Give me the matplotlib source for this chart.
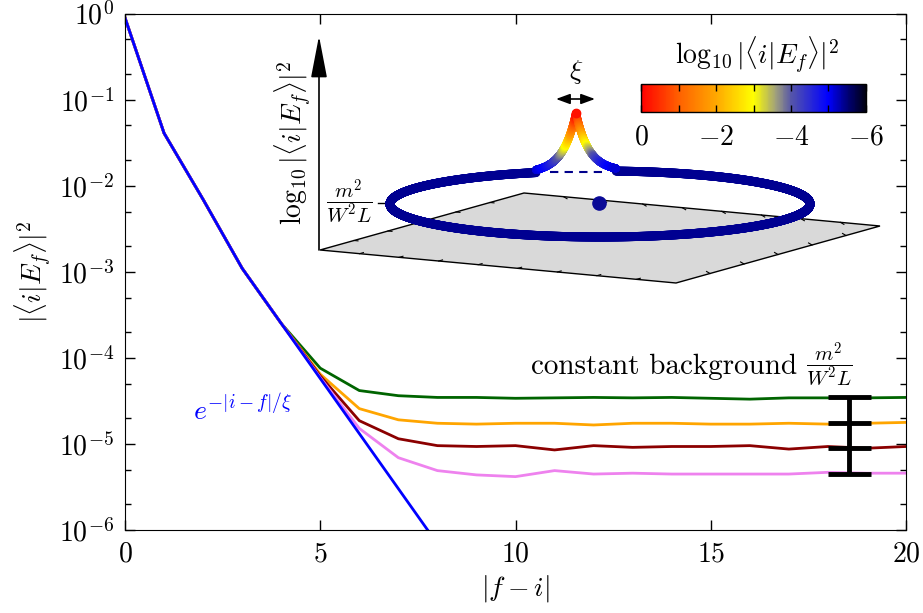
import numpy as np
import matplotlib
matplotlib.use("Agg")
import matplotlib.pyplot as plt
import matplotlib.colors as mcolors
from matplotlib.patches import Polygon
from matplotlib.ticker import LogLocator, NullFormatter

plt.rcParams["font.family"] = "serif"
plt.rcParams["font.serif"] = ["cmr10"]
plt.rcParams["mathtext.fontset"] = "cm"
plt.rcParams["axes.formatter.use_mathtext"] = True

# ---- data (log10 of |<i|E_f>|^2) ----
dist = list(range(21))
shared = [-0.05, -1.39, -2.16, -2.96, -3.60]
log_green = shared + [-4.12, -4.38, -4.44, -4.46, -4.46, -4.47, -4.465, -4.46, -4.465,
                      -4.46, -4.47, -4.48, -4.465, -4.465, -4.465, -4.46]
log_orange = shared + [-4.19, -4.59, -4.72, -4.76, -4.77, -4.76, -4.76, -4.78, -4.76,
                       -4.76, -4.77, -4.77, -4.76, -4.77, -4.76, -4.75]
log_red = shared + [-4.21, -4.73, -4.94, -5.02, -5.03, -5.02, -5.07, -5.02, -5.04,
                    -5.03, -5.03, -5.02, -5.06, -5.03, -5.05, -5.03]
log_violet = shared + [-4.23, -4.82, -5.16, -5.31, -5.36, -5.38, -5.31, -5.35, -5.34,
                       -5.35, -5.35, -5.35, -5.35, -5.33, -5.34, -5.34]
blue_x = list(range(9))
log_blue = shared + [-4.24, -4.88, -5.52, -6.16]

bg_x = 18.55
bg_levels = [-4.455, -4.754, -5.05, -5.345]

cbar_ticks = [0, -1, -2, -3, -4, -5, -6]
cbar_labels = ["$0$", "", "$-2$", "", "$-4$", "", "$-6$"]

# colormap stops (value, colour)
cmap_vals = [-6.0, -5.5, -5.0, -4.0, -3.6, -3.0, -2.0, -1.0, 0.0]
cmap_cols = ["#000012", "#00007a", "#0000ff", "#5656a8", "#a0a07c", "#ffff00",
             "#ffa800", "#ff6000", "#ff0000"]

W, H = 923, 613
fig = plt.figure(figsize=(W / 100, H / 100), dpi=100)
ax = fig.add_axes([125 / W, 83 / H, 781 / W, 516.5 / H])

ax.plot(dist, 10 ** np.array(log_green), color="#006400", lw=2)
ax.plot(dist, 10 ** np.array(log_orange), color="#ffa500", lw=2)
ax.plot(dist, 10 ** np.array(log_red), color="#8b0000", lw=2)
ax.plot(dist, 10 ** np.array(log_violet), color="#ee82ee", lw=2)
ax.plot(blue_x, 10 ** np.array(log_blue), color="#0000ff", lw=2)

lv = 10 ** np.array(bg_levels)
ax.vlines(bg_x, lv.min(), lv.max(), color="k", lw=3.5, zorder=5)
ax.hlines(lv, bg_x - 0.55, bg_x + 0.55, color="k", lw=3.5, zorder=5)

ax.set_yscale("log")
ax.set_xlim(0, 20)
ax.set_ylim(1e-6, 1)
ax.set_xticks([0, 5, 10, 15, 20])
ax.yaxis.set_major_locator(LogLocator(base=10, numticks=10))
ax.yaxis.set_minor_locator(LogLocator(base=10, subs=(2, 5), numticks=10))
ax.yaxis.set_minor_formatter(NullFormatter())
ax.tick_params(which="both", direction="in", top=True, right=True, labelsize=20, pad=8)
ax.tick_params(which="major", length=7, width=1)
ax.tick_params(which="minor", length=4, width=1)
ax.set_xlabel(r"$|f-i|$", fontsize=20, labelpad=4)
ax.set_ylabel(r"$|\langle i|E_f\rangle|^2$", fontsize=20, labelpad=4)

ax.text(10.4, 10 ** -4.1, "constant background", fontsize=21, va="center")
ax.text(18.05, 10 ** -4.08, r"$\dfrac{m^2}{W^2L}$", fontsize=15, ha="center", va="center")
ax.text(1.75, 10 ** -4.6, r"$e^{-|i-f|/\xi}$", fontsize=20, color="#0000ff", va="center")

# ---- inset sketch, drawn in figure pixel units ----
ov = fig.add_axes([0, 0, 1, 1])
ov.set_xlim(0, W)
ov.set_ylim(H, 0)
ov.axis("off")
ov.patch.set_visible(False)

cmap = mcolors.LinearSegmentedColormap.from_list(
    "wf", [((v + 6) / 6, c) for v, c in zip(cmap_vals, cmap_cols)])
norm = mcolors.Normalize(vmin=-6, vmax=0)

corners = [(320, 250), (524, 193), (880, 226), (676, 283)]
ov.add_patch(Polygon(corners, closed=True, fc="#d9d9d9", ec="k", lw=1, zorder=1))
pts = np.array(corners, dtype=float)
edges = [(0, 1, 3), (0, 3, 1), (3, 2, 1), (1, 2, 3)]
for a, b, o in edges:
    p, q = pts[a], pts[b]
    d = pts[o] - pts[a]
    d = d / np.hypot(*d) * 4
    n = int(round(np.hypot(*(q - p)) / 38))
    for t in np.linspace(0, 1, n + 1)[1:-1]:
        m = p + t * (q - p)
        ov.plot([m[0], m[0] + d[0]], [m[1], m[1] + d[1]], color="k", lw=0.8, zorder=1)

cx, cy, ra, rb = 600, 204, 210, 33
peak_x, peak_h, peak_w = 576, 58, 13
th = np.linspace(0, 2 * np.pi, 2500)
rx = cx + ra * np.cos(th)
ry = cy - rb * np.sin(th)
keep = ~((np.sin(th) > 0) & (np.abs(rx - peak_x) < 40))
ov.scatter(rx[keep], ry[keep], s=42, c=np.full(keep.sum(), -5.4), cmap=cmap, norm=norm,
           lw=0, zorder=3)

px = np.linspace(peak_x - 40, peak_x + 40, 800)
base = cy - rb * np.sqrt(1 - ((px - cx) / ra) ** 2)
hh = peak_h * np.exp(-np.abs(px - peak_x) / peak_w)
ov.scatter(px, base - hh, s=34, c=-5.4 * (1 - hh / peak_h), cmap=cmap, norm=norm,
           lw=0, zorder=4)
ov.plot(peak_x, base.min() - peak_h, "o", color="#ff1000", ms=6, zorder=5)
ov.plot([550, 602], [171.5, 171.5], ls=(0, (4, 3)), color="#00008b", lw=1.5, zorder=2)
ov.plot(599, 203, "o", color="#0a0a96", ms=9.5, zorder=5)

ov.annotate("", xy=(319, 36), xytext=(319, 250),
            arrowprops=dict(arrowstyle="-|>,head_length=1.3,head_width=0.25",
                            color="k", lw=1.2, mutation_scale=20, shrinkA=0, shrinkB=0))
ov.text(293, 143, r"$\log_{10}|\langle i|E_f\rangle|^2$", rotation=90, fontsize=20,
        ha="center", va="center")
ov.text(349, 202, r"$\dfrac{m^2}{W^2L}$", fontsize=15, ha="center", va="center")
ov.plot([378, 393], [203, 203], color="k", lw=1, zorder=2)

ov.text(576, 72, r"$\xi$", fontsize=20, ha="center", va="center")
ov.annotate("", xy=(556, 99), xytext=(595, 99),
            arrowprops=dict(arrowstyle="<|-|>,head_length=0.6,head_width=0.22",
                            color="k", lw=1.2, mutation_scale=14, shrinkA=0, shrinkB=0))

# colour bar
cax = fig.add_axes([641 / W, (H - 112) / H, 225 / W, 28 / H])
sm = plt.cm.ScalarMappable(norm=norm, cmap=cmap)
cb = fig.colorbar(sm, cax=cax, orientation="horizontal")
cax.invert_xaxis()
cb.set_ticks(cbar_ticks)
cb.set_ticklabels(cbar_labels)
cb.outline.set_linewidth(1)
cax.tick_params(direction="in", top=True, bottom=True, length=5, width=1,
                labelsize=20, pad=9)
ov.text(757, 55, r"$\log_{10}|\langle i|E_f\rangle|^2$", fontsize=20, ha="center", va="center")

fig.savefig("out.png", dpi=100)
